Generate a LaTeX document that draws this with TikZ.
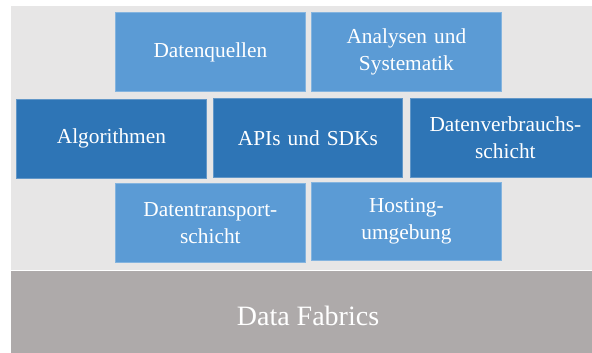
\documentclass[tikz,border=0pt]{standalone}
\usepackage{fontspec}
\setmainfont{Liberation Serif}
\definecolor{lightblue}{HTML}{5B9BD5}
\definecolor{darkblue}{HTML}{2E75B6}
\definecolor{panelgray}{HTML}{E7E6E6}
\definecolor{basegray}{HTML}{AEAAAA}
\tikzset{every picture/.style={line width=0.75pt}}

\begin{document}
\begin{tikzpicture}[x=0.75pt,y=0.75pt,yscale=-1,xscale=1,
  layerbox/.style={anchor=north west,minimum width=142.5pt,minimum height=59.25pt,
    text width=135pt,align=center,inner sep=0pt,text=white,
    font=\fontsize{16}{20}\selectfont,line width=0.6pt},
  lightbox/.style={layerbox,fill=lightblue,draw=lightblue!75!white},
  darkbox/.style={layerbox,fill=darkblue,draw=darkblue!75!white}]
\clip (0,0) rectangle (592,353);
\fill[white] (0,0) rectangle (592,353);

%Panel and base band
\fill[panelgray] (11,6) rectangle (592,270) ;
\fill[basegray] (11,271) rectangle (592,353) ;

%Top row
\node[lightbox] (quellen) at (115,12) {Datenquellen};
\node[lightbox] (analysen) at (311,12) {Analysen und\\Systematik};

%Middle row
\node[darkbox] (algorithmen) at (16,99) {Algorithmen};
\node[darkbox,minimum width=141.75pt] (apis) at (213,98) {APIs und SDKs};
\node[darkbox] (verbrauch) at (410,98) {Datenverbrauchs-\\schicht};

%Bottom row
\node[lightbox] (transport) at (115,183) {Datentransport-\\schicht};
\node[lightbox,minimum height=58.5pt] (hosting) at (311,182) {Hosting-\\umgebung};

% Text Node
\node[text=white,font=\fontsize{21}{25}\selectfont] (fabrics) at (308,316) {Data Fabrics};

\end{tikzpicture}
\end{document}
